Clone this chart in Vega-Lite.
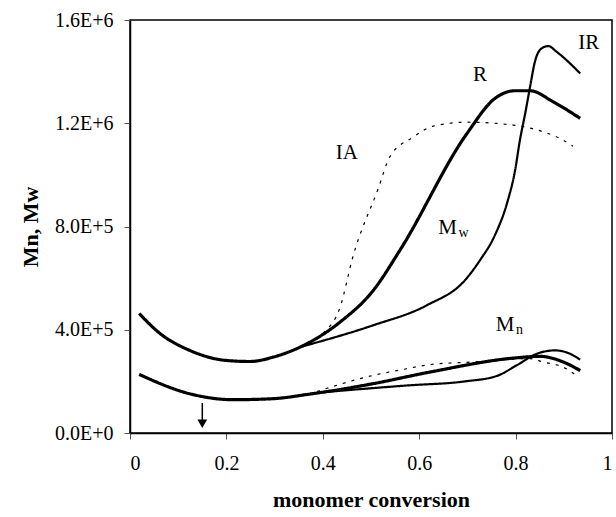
{
  "$schema": "https://vega.github.io/schema/vega-lite/v6.json",
  "width": 482,
  "height": 413,
  "autosize": "none",
  "padding": {"left": 130, "top": 20, "right": 4, "bottom": 84},
  "background": "white",
  "config": {
    "view": {"stroke": "black", "strokeWidth": 1.5},
    "font": "Liberation Serif",
    "axis": {
      "labelFont": "Liberation Serif", "labelFontSize": 20, "labelColor": "black",
      "titleFont": "Liberation Serif", "titleFontWeight": "bold", "titleColor": "black",
      "grid": false, "domainColor": "black", "domainWidth": 1.5, "tickColor": "#555", "tickSize": 6
    },
    "text": {"font": "Liberation Serif"}
  },
  "datasets": {
    "curves": [
      {"curve": "R_Mw", "model": "R", "conversion": 0.019, "M": 463000},
      {"curve": "R_Mw", "model": "R", "conversion": 0.062, "M": 386000},
      {"curve": "R_Mw", "model": "R", "conversion": 0.124, "M": 320000},
      {"curve": "R_Mw", "model": "R", "conversion": 0.2, "M": 281000},
      {"curve": "R_Mw", "model": "R", "conversion": 0.249, "M": 277000},
      {"curve": "R_Mw", "model": "R", "conversion": 0.297, "M": 294000},
      {"curve": "R_Mw", "model": "R", "conversion": 0.353, "M": 333000},
      {"curve": "R_Mw", "model": "R", "conversion": 0.436, "M": 430000},
      {"curve": "R_Mw", "model": "R", "conversion": 0.505, "M": 553000},
      {"curve": "R_Mw", "model": "R", "conversion": 0.56, "M": 708000},
      {"curve": "R_Mw", "model": "R", "conversion": 0.699, "M": 1160000},
      {"curve": "R_Mw", "model": "R", "conversion": 0.757, "M": 1296000},
      {"curve": "R_Mw", "model": "R", "conversion": 0.799, "M": 1326000},
      {"curve": "R_Mw", "model": "R", "conversion": 0.83, "M": 1326000},
      {"curve": "R_Mw", "model": "R", "conversion": 0.878, "M": 1283000},
      {"curve": "R_Mw", "model": "R", "conversion": 0.934, "M": 1219000},

      {"curve": "IR_Mw", "model": "IR", "conversion": 0.353, "M": 333000},
      {"curve": "IR_Mw", "model": "IR", "conversion": 0.504, "M": 417000},
      {"curve": "IR_Mw", "model": "IR", "conversion": 0.616, "M": 495000},
      {"curve": "IR_Mw", "model": "IR", "conversion": 0.695, "M": 592000},
      {"curve": "IR_Mw", "model": "IR", "conversion": 0.726, "M": 669000},
      {"curve": "IR_Mw", "model": "IR", "conversion": 0.757, "M": 766000},
      {"curve": "IR_Mw", "model": "IR", "conversion": 0.782, "M": 889000},
      {"curve": "IR_Mw", "model": "IR", "conversion": 0.799, "M": 1018000},
      {"curve": "IR_Mw", "model": "IR", "conversion": 0.809, "M": 1135000},
      {"curve": "IR_Mw", "model": "IR", "conversion": 0.82, "M": 1239000},
      {"curve": "IR_Mw", "model": "IR", "conversion": 0.83, "M": 1341000},
      {"curve": "IR_Mw", "model": "IR", "conversion": 0.84, "M": 1438000},
      {"curve": "IR_Mw", "model": "IR", "conversion": 0.854, "M": 1490000},
      {"curve": "IR_Mw", "model": "IR", "conversion": 0.868, "M": 1499000},
      {"curve": "IR_Mw", "model": "IR", "conversion": 0.885, "M": 1477000},
      {"curve": "IR_Mw", "model": "IR", "conversion": 0.934, "M": 1393000},

      {"curve": "IA_Mw", "model": "IA", "conversion": 0.353, "M": 333000},
      {"curve": "IA_Mw", "model": "IA", "conversion": 0.4, "M": 385000},
      {"curve": "IA_Mw", "model": "IA", "conversion": 0.436, "M": 488000},
      {"curve": "IA_Mw", "model": "IA", "conversion": 0.462, "M": 680000},
      {"curve": "IA_Mw", "model": "IA", "conversion": 0.515, "M": 947000},
      {"curve": "IA_Mw", "model": "IA", "conversion": 0.539, "M": 1070000},
      {"curve": "IA_Mw", "model": "IA", "conversion": 0.588, "M": 1147000},
      {"curve": "IA_Mw", "model": "IA", "conversion": 0.629, "M": 1189000},
      {"curve": "IA_Mw", "model": "IA", "conversion": 0.699, "M": 1204000},
      {"curve": "IA_Mw", "model": "IA", "conversion": 0.795, "M": 1193000},
      {"curve": "IA_Mw", "model": "IA", "conversion": 0.857, "M": 1167000},
      {"curve": "IA_Mw", "model": "IA", "conversion": 0.892, "M": 1141000},
      {"curve": "IA_Mw", "model": "IA", "conversion": 0.919, "M": 1111000},

      {"curve": "R_Mn", "model": "R", "conversion": 0.019, "M": 227000},
      {"curve": "R_Mn", "model": "R", "conversion": 0.124, "M": 152000},
      {"curve": "R_Mn", "model": "R", "conversion": 0.214, "M": 129000},
      {"curve": "R_Mn", "model": "R", "conversion": 0.297, "M": 133000},
      {"curve": "R_Mn", "model": "R", "conversion": 0.37, "M": 150000},
      {"curve": "R_Mn", "model": "R", "conversion": 0.4, "M": 158000},
      {"curve": "R_Mn", "model": "R", "conversion": 0.504, "M": 191000},
      {"curve": "R_Mn", "model": "R", "conversion": 0.622, "M": 236000},
      {"curve": "R_Mn", "model": "R", "conversion": 0.8, "M": 291000},
      {"curve": "R_Mn", "model": "R", "conversion": 0.85, "M": 297000},
      {"curve": "R_Mn", "model": "R", "conversion": 0.899, "M": 275000},
      {"curve": "R_Mn", "model": "R", "conversion": 0.934, "M": 242000},

      {"curve": "IR_Mn", "model": "IR", "conversion": 0.4, "M": 158000},
      {"curve": "IR_Mn", "model": "IR", "conversion": 0.574, "M": 184000},
      {"curve": "IR_Mn", "model": "IR", "conversion": 0.695, "M": 200000},
      {"curve": "IR_Mn", "model": "IR", "conversion": 0.761, "M": 221000},
      {"curve": "IR_Mn", "model": "IR", "conversion": 0.802, "M": 262000},
      {"curve": "IR_Mn", "model": "IR", "conversion": 0.844, "M": 307000},
      {"curve": "IR_Mn", "model": "IR", "conversion": 0.882, "M": 320000},
      {"curve": "IR_Mn", "model": "IR", "conversion": 0.913, "M": 307000},
      {"curve": "IR_Mn", "model": "IR", "conversion": 0.934, "M": 284000},

      {"curve": "IA_Mn", "model": "IA", "conversion": 0.37, "M": 150000},
      {"curve": "IA_Mn", "model": "IA", "conversion": 0.504, "M": 223000},
      {"curve": "IA_Mn", "model": "IA", "conversion": 0.574, "M": 249000},
      {"curve": "IA_Mn", "model": "IA", "conversion": 0.622, "M": 265000},
      {"curve": "IA_Mn", "model": "IA", "conversion": 0.712, "M": 275000},
      {"curve": "IA_Mn", "model": "IA", "conversion": 0.83, "M": 288000},
      {"curve": "IA_Mn", "model": "IA", "conversion": 0.857, "M": 275000},
      {"curve": "IA_Mn", "model": "IA", "conversion": 0.899, "M": 255000},
      {"curve": "IA_Mn", "model": "IA", "conversion": 0.923, "M": 227000}
    ],
    "labels": [
      {"label": "IR", "conversion": 0.952, "M": 1510000},
      {"label": "R", "conversion": 0.726, "M": 1387000},
      {"label": "IA", "conversion": 0.45, "M": 1083000},
      {"label": "M", "conversion": 0.659, "M": 795000},
      {"label": "M", "conversion": 0.778, "M": 420000}
    ],
    "subs": [
      {"label": "w", "conversion": 0.692, "M": 775000},
      {"label": "n", "conversion": 0.808, "M": 400000}
    ],
    "arrow": [
      {"conversion": 0.15, "M": 116000, "M2": 36000}
    ]
  },
  "layer": [
    {
      "data": {"name": "curves"},
      "mark": {"type": "line", "interpolate": "monotone", "color": "black"},
      "encoding": {
        "x": {
          "field": "conversion", "type": "quantitative",
          "scale": {"domain": [0, 1], "nice": false},
          "axis": {
            "title": "monomer conversion",
            "values": [0, 0.2, 0.4, 0.6, 0.8, 1],
            "labelExpr": "datum.value == 0 ? '0' : datum.value == 1 ? '1' : format(datum.value, '.1f')",
            "labelFont": "Liberation Serif", "labelFontSize": 20,
            "labelPadding": 14,
            "titleFont": "Liberation Serif", "titleFontSize": 22, "titleFontWeight": "bold",
            "titlePadding": 16
          }
        },
        "y": {
          "field": "M", "type": "quantitative",
          "scale": {"domain": [0, 1600000], "nice": false},
          "axis": {
            "title": "Mn, Mw",
            "values": [0, 400000, 800000, 1200000, 1600000],
            "labelExpr": "replace(format(datum.value, '.1e'), 'e', 'E')",
            "labelFont": "Liberation Serif", "labelFontSize": 20,
            "labelPadding": 11,
            "titleFont": "Liberation Serif", "titleFontSize": 22, "titleFontWeight": "bold",
            "titlePadding": 12
          }
        },
        "detail": {"field": "curve", "type": "nominal"},
        "strokeWidth": {
          "field": "model", "type": "nominal",
          "scale": {"domain": ["R", "IR", "IA"], "range": [3.2, 1.2, 2]},
          "legend": null
        },
        "strokeDash": {
          "field": "model", "type": "nominal",
          "scale": {"domain": ["R", "IR", "IA"], "range": [[1, 0], [1, 0], [3, 6]]},
          "legend": null
        }
      }
    },
    {
      "data": {"name": "labels"},
      "mark": {"type": "text", "font": "Liberation Serif", "fontSize": 21, "color": "black"},
      "encoding": {
        "x": {"field": "conversion", "type": "quantitative"},
        "y": {"field": "M", "type": "quantitative"},
        "text": {"field": "label"}
      }
    },
    {
      "data": {"name": "subs"},
      "mark": {"type": "text", "font": "Liberation Serif", "fontSize": 14, "color": "black"},
      "encoding": {
        "x": {"field": "conversion", "type": "quantitative"},
        "y": {"field": "M", "type": "quantitative"},
        "text": {"field": "label"}
      }
    },
    {
      "data": {"name": "arrow"},
      "mark": {"type": "rule", "color": "black", "strokeWidth": 1.5},
      "encoding": {
        "x": {"field": "conversion", "type": "quantitative"},
        "y": {"field": "M", "type": "quantitative"},
        "y2": {"field": "M2"}
      }
    },
    {
      "data": {"name": "arrow"},
      "mark": {"type": "point", "shape": "triangle-down", "filled": true, "color": "black", "size": 95, "opacity": 1},
      "encoding": {
        "x": {"field": "conversion", "type": "quantitative"},
        "y": {"field": "M2", "type": "quantitative"}
      }
    }
  ]
}
